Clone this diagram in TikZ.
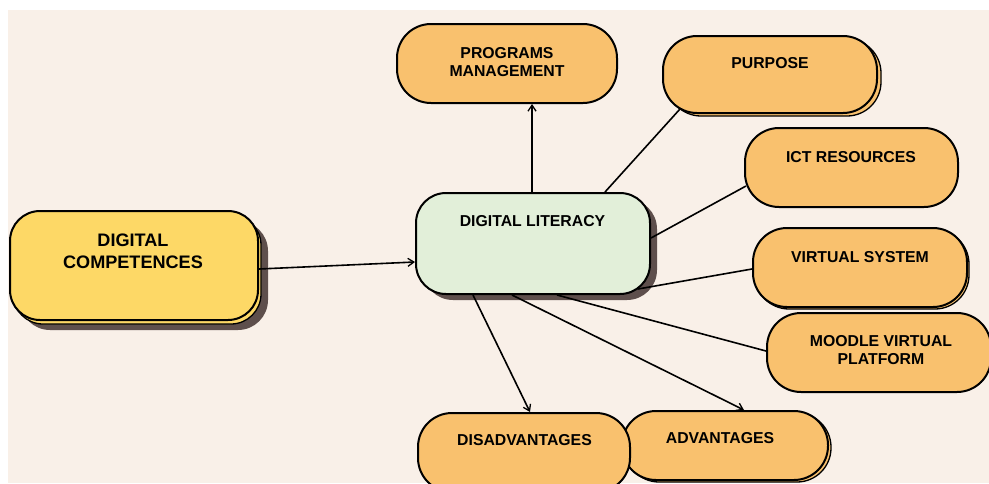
\documentclass[tikz,border=0pt]{standalone}
\usepackage{fontspec}
\setmainfont{Liberation Sans}
\usetikzlibrary{arrows.meta,calc}
\definecolor{bgc}{HTML}{F9F0E8}
\definecolor{orng}{HTML}{F9C16E}
\definecolor{yell}{HTML}{FDD866}
\definecolor{grn}{HTML}{E2EFD9}
\definecolor{shd}{HTML}{5E4F4C}
\begin{document}
\begin{tikzpicture}[x=1pt,y=-1pt,
  box/.style={draw=black,line width=2pt,rounded corners=34pt,fill=orng,inner sep=0pt},
  layer/.style={draw=black,line width=1.3pt,rounded corners=34pt,fill=orng},
  lbl/.style={font=\bfseries\fontsize{15.8}{18.5}\selectfont,align=center,anchor=north,inner sep=0pt},
  conn/.style={line width=1.6pt,draw=black},
  arr/.style={conn,-{Straight Barb[length=6pt,width=8pt,line width=1.3pt]}}]
\useasboundingbox (0,0) rectangle (989,483);
\clip (0,0) rectangle (989,483);
\fill[bgc] (8,10) rectangle (989,483);

% Digital competences
\fill[shd,rounded corners=30pt] (20,221) rectangle (268,330);
\draw[fill=yell,line width=1.3pt,rounded corners=30pt] (13,215) rectangle (261,324);
\node[draw=black,line width=2pt,rounded corners=30pt,fill=yell,minimum width=248pt,minimum height=109pt,inner sep=0pt] (dc) at (134,265.5) {};
\node[lbl,font=\bfseries\fontsize{18.1}{21.5}\selectfont] (dct) at (133,234) {DIGITAL\\COMPETENCES};

% Digital literacy
\fill[shd,rounded corners=30pt] (423,199) rectangle (657,300);
\node[draw=black,line width=2pt,rounded corners=30pt,fill=grn,minimum width=234pt,minimum height=101pt,inner sep=0pt] (dl) at (533,243.5) {};
\node[lbl] (dlt) at (532.5,215) {DIGITAL LITERACY};

% Programs management
\node[box,minimum width=220pt,minimum height=79pt] (pm) at (507,63.5) {};
\node[lbl] (pmt) at (507,47) {PROGRAMS\\MANAGEMENT};

% Purpose
\draw[layer] (667,39) rectangle (881,116);
\node[box,minimum width=214pt,minimum height=77pt] (pu) at (770,74.5) {};
\node[lbl] (put) at (770,57) {PURPOSE};

% ICT resources
\node[box,minimum width=213pt,minimum height=79pt] (ict) at (851.5,167.5) {};
\node[lbl] (ictt) at (851,151) {ICT RESOURCES};

% Virtual system
\draw[layer] (755,230) rectangle (969,309);
\node[box,minimum width=214pt,minimum height=79pt] (vs) at (860,267.5) {};
\node[lbl] (vst) at (860,251) {VIRTUAL SYSTEM};

% Moodle
\node[box,minimum width=224pt,minimum height=79pt] (md) at (879,352.5) {};
\node[lbl] (mdt) at (881,335) {MOODLE VIRTUAL\\PLATFORM};

% Advantages
\draw[layer] (625,413) rectangle (831,482);
\node[box,minimum width=206pt,minimum height=69pt] (adv) at (725,445.5) {};
\node[lbl] (advt) at (720,432) {ADVANTAGES};

% Disadvantages
\node[box,minimum width=212pt,minimum height=79pt] (dis) at (524,452.5) {};
\node[lbl] (dist) at (524.5,434) {DISADVANTAGES};

% connectors
\draw[arr] ([yshift=-3.5pt]dc.east) -- ([yshift=-18.5pt]dl.west);
\draw[arr] ([xshift=-1pt]dl.north) -- ([xshift=25pt]pm.south);
\draw[conn] ([xshift=72pt]dl.north) -- ([xshift=18pt,yshift=5pt]pu.south west);
\draw[conn] ([yshift=5.5pt]dl.east) -- ([xshift=2pt,yshift=22pt]ict.south west);
\draw[conn] ([xshift=-13pt,yshift=6pt]dl.south east) -- ([yshift=-1.5pt]vs.west);
\draw[conn] ([xshift=24pt]dl.south) -- ([yshift=1.5pt]md.west);
\draw[arr] ([xshift=-21pt]dl.south) -- ([xshift=19pt]adv.north);
\draw[arr] ([xshift=-60pt]dl.south) -- ([xshift=6pt]dis.north);
\end{tikzpicture}
\end{document}
